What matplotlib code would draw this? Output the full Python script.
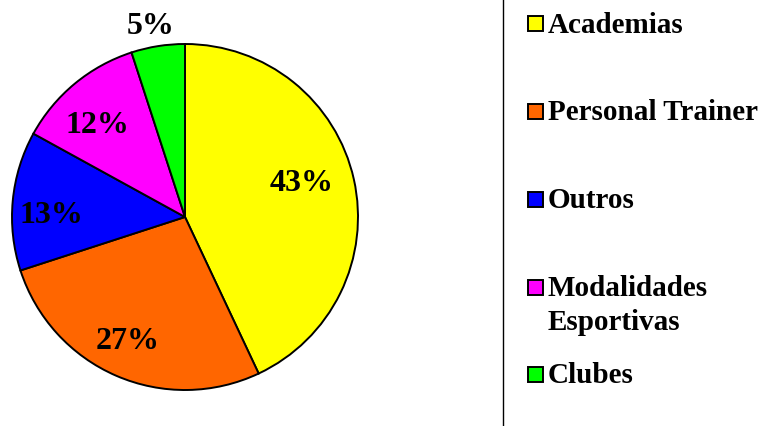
import numpy as np
import matplotlib.pyplot as plt
from matplotlib.lines import Line2D
from matplotlib.patches import Rectangle

plt.rcParams['font.family'] = ['Liberation Serif', 'DejaVu Serif']
plt.rcParams['font.weight'] = 'bold'

# dados do gráfico
categorias = ['Academias', 'Personal Trainer', 'Outros', 'Modalidades\nEsportivas', 'Clubes']
valores = [43, 27, 13, 12, 5]
cores = ['#FFFF00', '#FF6600', '#0000FF', '#FF00FF', '#00FF00']

W, H = 770, 427
fig = plt.figure(figsize=(W / 100, H / 100), dpi=100)

# pizza: centro (185, 218), raio 173 px
cx, cy, r = 185, 218, 173
ax = fig.add_axes([(cx - r) / W, (H - cy - r) / H, 2 * r / W, 2 * r / H])
wedges, textos, pct = ax.pie(valores, colors=cores, startangle=90, counterclock=False,
                             autopct='%d%%',
                             wedgeprops=dict(edgecolor='black', linewidth=1.4),
                             textprops=dict(fontsize=23, fontweight='bold', color='black'))
ax.set_xlim(-1, 1)
ax.set_ylim(-1, 1)
ax.set_aspect('equal')

# posição dos rótulos (distância relativa ao raio e desvio angular)
dist = [0.71, 0.77, 0.77, 0.75, 1.14]
desvio = [5, -2, 3, 3, 1]
for w, t, d, a in zip(wedges, pct, dist, desvio):
    ang = np.deg2rad((w.theta1 + w.theta2) / 2 + a)
    t.set_position((d * np.cos(ang), d * np.sin(ang) - 10.5 / r))
    t.set_va('baseline')
    t.set_clip_on(False)

# linha vertical da legenda
fig.add_artist(Line2D([503 / W, 503 / W], [0, 1], color='black', linewidth=1.0))

# legenda manual
ys = [24.5, 112, 200, 288, 375]
for cat, cor, yy in zip(categorias, cores, ys):
    fig.add_artist(Rectangle((528 / W, (H - yy - 7.5) / H), 15 / W, 15 / H,
                             facecolor=cor, edgecolor='black', linewidth=1.4,
                             transform=fig.transFigure))
    for k, linha in enumerate(cat.split('\n')):
        fig.text(548 / W, (H - yy - 8.5 - 34 * k) / H, linha, fontsize=21,
                 fontweight='bold', va='baseline', ha='left')

fig.savefig('out.png', dpi=100)
